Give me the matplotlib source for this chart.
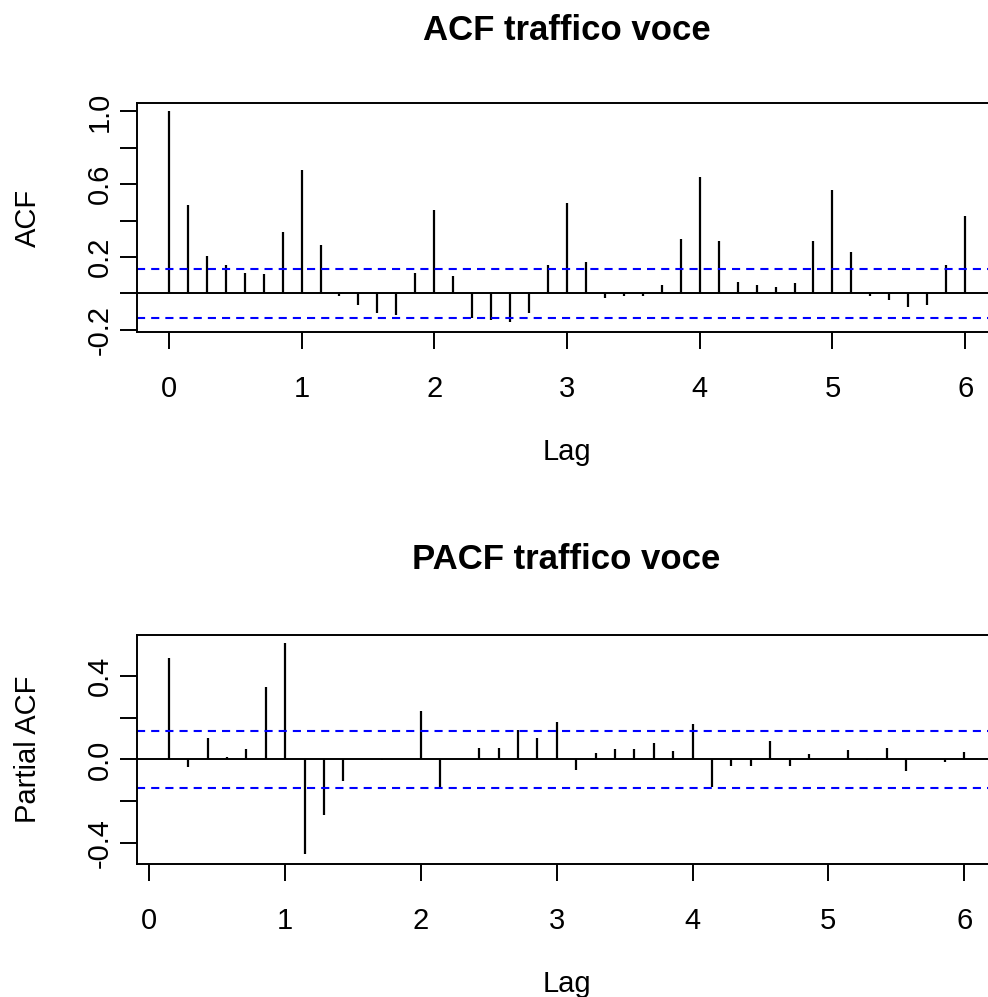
import numpy as np
import matplotlib
matplotlib.use("Agg")
import matplotlib.pyplot as plt

plt.rcParams['font.family'] = ['Liberation Sans', 'DejaVu Sans']

# ---- data ----
acf_lags = np.arange(0, 43) / 7.0
acf_vals = [1.0, 0.486, 0.206, 0.156, 0.114, 0.105, 0.338, 0.679, 0.266, -0.015,
            -0.066, -0.106, -0.116, 0.114, 0.457, 0.095, -0.134, -0.145, -0.156, -0.106,
            0.154, 0.499, 0.174, -0.024, -0.015, -0.015, 0.044, 0.297, 0.640, 0.288,
            0.064, 0.046, 0.035, 0.055, 0.288, 0.569, 0.228, -0.015, -0.035, -0.075,
            -0.066, 0.156, 0.428]
pacf_lags = np.arange(1, 43) / 7.0
pacf_vals = [0.485, -0.038, 0.101, 0.013, 0.048, 0.346, 0.557, -0.454, -0.269, -0.102,
             0.003, -0.004, 0.002, 0.232, -0.136, 0.003, 0.056, 0.056, 0.141, 0.101,
             0.179, -0.051, 0.029, 0.048, 0.048, 0.080, 0.038, 0.170, -0.131, -0.032,
             -0.032, 0.090, -0.032, 0.027, 0.003, 0.046, -0.003, 0.056, -0.058, 0.002,
             -0.014, 0.037]
conf = 0.137
x_ticks = [0, 1, 2, 3, 4, 5, 6]
acf_yticks = [-0.2, 0.0, 0.2, 0.4, 0.6, 0.8, 1.0]
acf_yticklabels = ['-0.2', '', '0.2', '', '0.6', '', '1.0']
pacf_yticks = [-0.4, -0.2, 0.0, 0.2, 0.4]
pacf_yticklabels = ['-0.4', '', '0.0', '', '0.4']
titles = ['ACF traffico voce', 'PACF traffico voce']
ylabels = ['ACF', 'Partial ACF']

W, H = 988, 997
fig = plt.figure(figsize=(W / 100, H / 100), dpi=100)
fig.patch.set_facecolor('white')

ax1 = fig.add_axes([137 / W, 1 - 332 / H, 860 / W, 229 / H])
ax2 = fig.add_axes([137 / W, 1 - 864 / H, 859 / W, 229 / H])

TICK_FS = 21
TITLE_FS = 25
LW = 1.4

def style(ax, lags, vals, yticks, yticklabels, title, ylabel, xlim, ylim, title_y):
    ax.vlines(lags, 0, vals, colors='black', lw=1.6)
    ax.axhline(0, color='black', lw=1.4)
    for c in (conf, -conf):
        ax.axhline(c, color='#0000FF', lw=1.5, linestyle=(0, (3.9, 2.9)))
    ax.set_xlim(*xlim)
    ax.set_ylim(*ylim)
    ax.set_xticks(x_ticks)
    ax.set_xticklabels([str(t) for t in x_ticks])
    ax.set_yticks(yticks)
    ax.set_yticklabels(yticklabels)
    for s in ax.spines.values():
        s.set_linewidth(LW)
    ax.tick_params(axis='both', direction='out', length=12.2, width=LW,
                   labelsize=TICK_FS)
    ax.tick_params(axis='x', pad=19)
    ax.tick_params(axis='y', pad=4.5, labelrotation=90)
    for lab in ax.get_yticklabels():
        lab.set_va('center')
    ax.text(0.5, title_y, title, transform=ax.transAxes, ha='center', va='center',
            fontsize=TITLE_FS, fontweight='bold')
    ax.set_xlabel('Lag', fontsize=TICK_FS)
    ax.xaxis.set_label_coords(0.5, -0.525)
    ax.xaxis.label.set_va('center')
    ax.set_ylabel(ylabel, fontsize=TICK_FS)
    ax.yaxis.set_label_coords(-109 / 860, 0.5)
    ax.yaxis.label.set_va('center')

style(ax1, acf_lags, acf_vals, acf_yticks, acf_yticklabels, titles[0], ylabels[0],
      (-0.24, 6.24), (-0.2116, 1.0466), 1.318)
style(ax2, pacf_lags, pacf_vals, pacf_yticks, pacf_yticklabels, titles[1], ylabels[1],
      (1 / 7 - 0.04 * (6 - 1 / 7), 6 + 0.04 * (6 - 1 / 7)), (-0.502, 0.597), 1.33)

fig.savefig('out.png', dpi=100, facecolor='white')
